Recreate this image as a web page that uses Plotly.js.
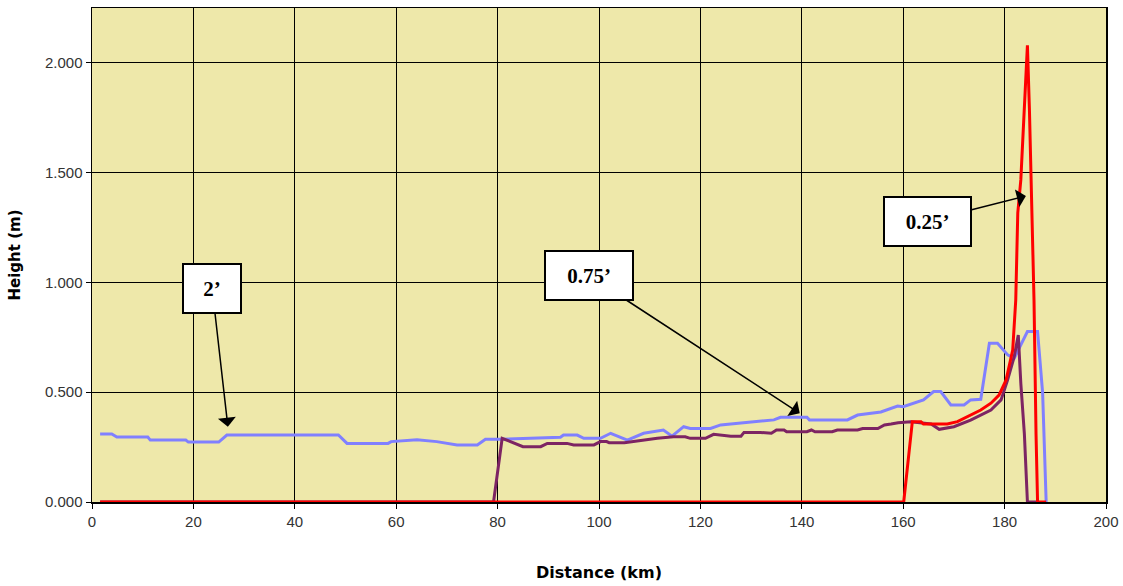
<!DOCTYPE html>
<html>
<head>
<meta charset="utf-8">
<script src="https://cdn.plot.ly/plotly-3.0.1.min.js"></script>
<style>html,body{margin:0;padding:0;background:#fff;}#chart{width:1123px;height:586px;}</style>
</head>
<body>
<div id="chart"></div>
<script>
// Series "2'" (blue)
const dist2 = [1.6, 3.9, 4.9, 11, 11.5, 18.5, 19, 25, 26.6, 48.6, 50.3, 58.4, 59, 64.1, 68, 72, 76, 77.6, 80.6, 85, 92.4, 93, 95.7, 97, 100.3, 102.3, 105.6, 108.8, 112.7, 114.4, 116.7, 118, 122, 124, 128, 134.5, 135.8, 141, 141.5, 149, 151, 155.6, 158.9, 160, 164, 166, 167.4, 169.4, 172, 173.3, 175.3, 176, 177, 178.6, 180.6, 181.9, 184.5, 186.5, 187.5, 188.2];
const height2 = [0.31, 0.31, 0.296, 0.296, 0.282, 0.282, 0.273, 0.273, 0.305, 0.305, 0.267, 0.267, 0.275, 0.284, 0.275, 0.26, 0.26, 0.286, 0.286, 0.29, 0.295, 0.305, 0.305, 0.29, 0.29, 0.313, 0.282, 0.313, 0.328, 0.30, 0.343, 0.335, 0.335, 0.351, 0.361, 0.374, 0.386, 0.386, 0.374, 0.374, 0.396, 0.41, 0.437, 0.434, 0.465, 0.503, 0.503, 0.442, 0.442, 0.465, 0.468, 0.571, 0.723, 0.723, 0.67, 0.655, 0.776, 0.776, 0.497, 0.0];

// Series "0.75'" (purple)
const dist075 = [1.6, 79.2, 80.9, 83.2, 85, 88.5, 89.8, 93.7, 95, 99, 100.3, 101.5, 102, 105, 108.4, 111.5, 114.7, 117, 118, 121, 122.6, 126, 128, 128.6, 131.8, 134, 135, 136.5, 137, 141, 141.9, 142.6, 146, 147, 151, 152, 155, 156.3, 157.6, 159, 161.5, 165.5, 167.1, 170, 173.3, 177.3, 179.3, 180.6, 181.9, 182.7, 183.2, 183.9, 184.5, 186.5];
const height075 = [0, 0, 0.29, 0.267, 0.252, 0.252, 0.267, 0.267, 0.26, 0.26, 0.275, 0.275, 0.27, 0.27, 0.282, 0.29, 0.297, 0.297, 0.29, 0.29, 0.308, 0.30, 0.30, 0.317, 0.317, 0.313, 0.328, 0.328, 0.32, 0.32, 0.328, 0.32, 0.32, 0.328, 0.328, 0.335, 0.335, 0.351, 0.355, 0.361, 0.366, 0.355, 0.331, 0.343, 0.373, 0.419, 0.465, 0.556, 0.662, 0.76, 0.54, 0.31, 0, 0];

// Series "0.25'" (red)
const dist025 = [1.6, 160.1, 161.8, 163.5, 164, 168.7, 170.7, 172.7, 175.3, 177.3, 178.9, 180.3, 181.6, 182.2, 182.6, 183.2, 183.5, 183.9, 184.2, 184.5, 184.9, 185.2, 185.5, 185.8, 186.2, 186.5, 188.2];
const height025 = [0, 0, 0.366, 0.366, 0.355, 0.355, 0.366, 0.389, 0.419, 0.45, 0.487, 0.556, 0.692, 0.92, 1.317, 1.467, 1.619, 1.77, 1.92, 2.08, 1.785, 1.497, 1.19, 0.92, 0.31, 0, 0];

const xTicks = [0, 20, 40, 60, 80, 100, 120, 140, 160, 180, 200];
const yTicks = [0, 0.5, 1.0, 1.5, 2.0];
const yTickText = ["0.000", "0.500", "1.000", "1.500", "2.000"];

const labels = ["2’", "0.75’", "0.25’"];
const labelPoints = [[26.8, 0.343], [139.6, 0.404], [184.2, 1.394]];

const traces = [
  {x: dist2, y: height2, mode: 'lines', name: "2'", line: {color: '#8080FF', width: 3}},
  {x: dist075, y: height075, mode: 'lines', name: "0.75'", line: {color: '#7D2463', width: 3}},
  {x: dist025, y: height025, mode: 'lines', name: "0.25'", line: {color: '#FF0000', width: 3}}
];

const offsets = [[-15.7, -138.2, 56], [-211, -137.8, 86], [-98.7, 25.3, 85]];
const annotations = labels.map((t, i) => ({
  x: labelPoints[i][0], y: labelPoints[i][1], xref: 'x', yref: 'y',
  text: '<b>' + t + '</b>', showarrow: true,
  ax: offsets[i][0], ay: offsets[i][1],
  arrowhead: 1, arrowsize: 2, arrowwidth: 1.5, arrowcolor: '#000',
  standoff: 0,
  bgcolor: '#FFFFFF', bordercolor: '#000', borderwidth: 2, borderpad: 0,
  width: offsets[i][2], height: 47,
  font: {family: 'Liberation Serif, Times New Roman, serif', size: 21, color: '#000'}
}));

const layout = {
  width: 1123, height: 586,
  margin: {l: 92, r: 17, t: 8, b: 84},
  paper_bgcolor: '#FFFFFF',
  plot_bgcolor: '#EEE8AA',
  showlegend: false,
  xaxis: {
    range: [0, 200], tickvals: xTicks, ticks: 'outside', ticklen: 5, tickcolor: '#000',
    showgrid: true, gridcolor: '#000', gridwidth: 1,
    showline: true, linecolor: '#000', linewidth: 1.5, mirror: true, zeroline: false,
    tickfont: {family: 'Liberation Sans, Arial, sans-serif', size: 15, color: '#333'},
    title: {text: 'Distance (km)', standoff: 38,
      font: {family: 'DejaVu Sans, Verdana, sans-serif', size: 16, color: '#000', weight: 'bold'}}
  },
  yaxis: {
    range: [0, 2.25], tickvals: yTicks, ticktext: yTickText, ticks: 'outside', ticklen: 5, tickcolor: '#000',
    showgrid: true, gridcolor: '#000', gridwidth: 1,
    showline: true, linecolor: '#000', linewidth: 1.5, mirror: true, zeroline: false,
    tickfont: {family: 'Liberation Sans, Arial, sans-serif', size: 15, color: '#333'},
    title: {text: 'Height (m)', standoff: 20,
      font: {family: 'DejaVu Sans, Verdana, sans-serif', size: 15, color: '#000', weight: 'bold'}}
  },
  annotations: annotations
};

Plotly.newPlot('chart', traces, layout, {displayModeBar: false, staticPlot: true});
</script>
</body>
</html>
